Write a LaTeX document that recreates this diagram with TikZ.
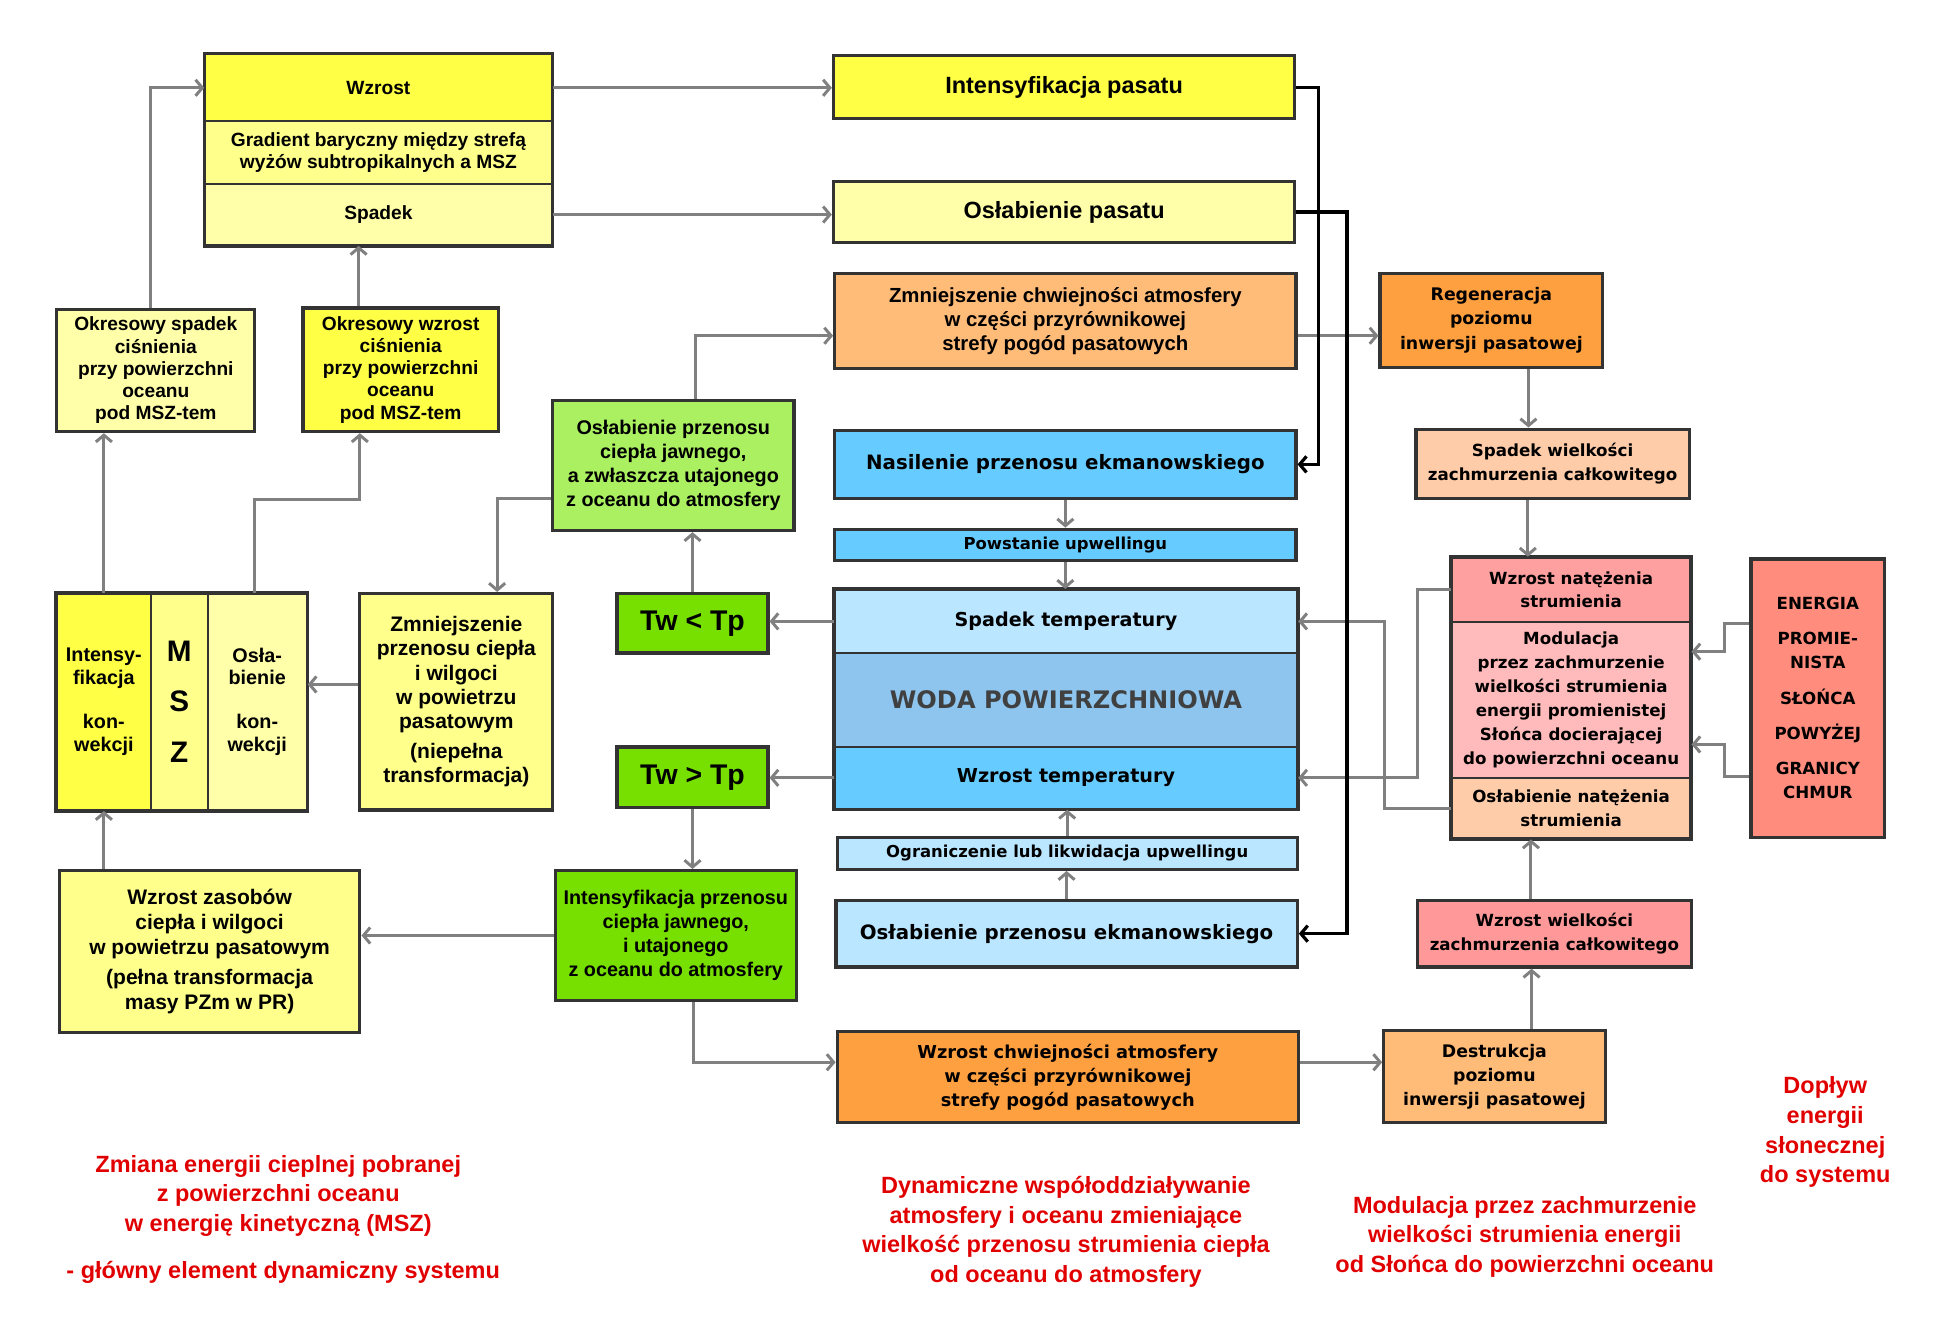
\documentclass[tikz,border=0pt]{standalone}
\usepackage{fontspec}
\setmainfont{Liberation Sans}
\newfontfamily\arialf{Liberation Sans}
\newfontfamily\widef{DejaVu Sans}
\usetikzlibrary{arrows.meta}
\definecolor{yelA}{RGB}{255,255,70}
\definecolor{yelB}{RGB}{255,255,140}
\definecolor{yelC}{RGB}{255,255,170}
\definecolor{oraL}{RGB}{255,187,120}
\definecolor{oraD}{RGB}{255,160,64}
\definecolor{grnL}{RGB}{170,240,96}
\definecolor{grnD}{RGB}{120,224,0}
\definecolor{bluD}{RGB}{102,204,255}
\definecolor{bluL}{RGB}{187,230,255}
\definecolor{bluM}{RGB}{142,197,238}
\definecolor{pnkA}{RGB}{255,160,160}
\definecolor{pnkB}{RGB}{255,187,187}
\definecolor{pnkC}{RGB}{255,153,153}
\definecolor{peach}{RGB}{255,204,170}
\definecolor{salm}{RGB}{255,140,124}
\definecolor{lgray}{RGB}{128,128,128}
\definecolor{redtx}{RGB}{225,0,0}
\begin{document}
\begin{tikzpicture}[x=1pt,y=-1pt,
  box/.style={draw=black!80,line width=2.6pt,fill=#1,inner sep=1pt,align=center,text=black},
  part/.style={draw=black!80,line width=1.6pt,fill=#1,inner sep=1pt,align=center,text=black},
  frame/.style={draw=black!80,line width=2.8pt},
  ari/.style 2 args={font=\arialf\bfseries\fontsize{#1}{#2}\selectfont},
  wid/.style 2 args={font=\widef\bfseries\fontsize{#1}{#2}\selectfont},
  conn/.style={draw=lgray,line width=2.4pt,-{Straight Barb[length=5.5pt,width=13pt]}},
  bconn/.style={draw=black,line width=2.6pt,-{Straight Barb[length=5.5pt,width=13pt]}},
  note/.style={text=redtx,align=center,font=\arialf\bfseries\fontsize{19}{24}\selectfont}]
\useasboundingbox (-2,-2) rectangle (1566,1067);
% gradient box
\node[part=yelA,ari={15.5}{18},minimum width=280pt,minimum height=54pt] (wzr) at (304,69) {Wzrost};
\node[part=yelB,ari={15.5}{18},minimum width=280pt,minimum height=51pt] (grad) at (304,121.5) {Gradient baryczny między strefą\\wyżów subtropikalnych a MSZ};
\node[part=yelC,ari={15.5}{18},minimum width=280pt,minimum height=49pt] (spd) at (304,171.5) {Spadek};
\draw[frame] (wzr.north west) rectangle (spd.south east);
% pasat
\node[box=yelA,ari={19}{22},minimum width=373pt,minimum height=51pt] (intp) at (858.5,68.5) {Intensyfikacja pasatu};
\node[box=yelC,ari={19}{22},minimum width=373pt,minimum height=49pt] (oslp) at (858.5,169.5) {Osłabienie pasatu};
\node[box=oraL,ari={16.5}{19.5},minimum width=373pt,minimum height=77pt] (zmch) at (859.5,257.5) {Zmniejszenie chwiejności atmosfery\\w części przyrównikowej\\strefy pogód pasatowych};
\node[box=oraD,wid={14}{19.5},minimum width=180pt,minimum height=76pt] (regen) at (1204,257) {Regeneracja\\poziomu\\inwersji pasatowej};
\node[box=yelC,ari={15.5}{18},minimum width=160pt,minimum height=99pt] (oksp) at (124,297.5) {Okresowy spadek\\ciśnienia\\przy powierzchni\\oceanu\\pod MSZ-tem};
\node[box=yelA,ari={15.5}{18},minimum width=158pt,minimum height=100pt] (okwz) at (322,297) {Okresowy wzrost\\ciśnienia\\przy powierzchni\\oceanu\\pod MSZ-tem};
\node[box=grnL,ari={16}{19.5},minimum width=195pt,minimum height=105pt] (oslc) at (542.5,374.5) {Osłabienie przenosu\\ciepła jawnego,\\a zwłaszcza utajonego\\z oceanu do atmosfery};
% ocean
\node[box=bluD,wid={16}{20},minimum width=373pt,minimum height=55pt] (nas) at (859.5,373.5) {Nasilenie przenosu ekmanowskiego};
\node[box=bluD,wid={13.3}{15},minimum width=373pt,minimum height=25pt] (pow) at (859.5,438.5) {Powstanie upwellingu};
\node[part=bluL,wid={15.5}{19},minimum width=374pt,minimum height=51pt] (spt) at (860,500.5) {Spadek temperatury};
\node[part=bluM,text=black!75,font=\widef\bfseries\fontsize{19.5}{22}\selectfont,minimum width=374pt,minimum height=76pt] (woda) at (860,564) {WODA POWIERZCHNIOWA};
\node[part=bluD,wid={15.5}{19},minimum width=374pt,minimum height=50pt] (wzt) at (860,627) {Wzrost temperatury};
\draw[frame] (spt.north west) rectangle (wzt.south east);
\node[box=bluL,wid={13.3}{15},minimum width=372pt,minimum height=26pt] (ogr) at (861,688) {Ograniczenie lub likwidacja upwellingu};
\node[box=bluL,wid={16}{20},minimum width=373pt,minimum height=54pt] (oslek) at (860.5,753) {Osłabienie przenosu ekmanowskiego};
\node[box=grnD,ari={23}{24},minimum width=122pt,minimum height=48pt] (twlt) at (558,502) {Tw < Tp};
\node[box=grnD,ari={23}{24},minimum width=122pt,minimum height=49pt] (twgt) at (558,626.5) {Tw > Tp};
% MSZ
\node[part=yelA,ari={16}{18.5},minimum width=76pt,minimum height=175pt] (intk) at (82,565.5) {Intensy-\\fikacja\\[17pt]kon-\\wekcji};
\node[part=yelB,ari={24}{41},minimum width=46pt,minimum height=175pt] (msz) at (143,565.5) {M\\S\\Z};
\node[part=yelC,ari={16}{18.5},minimum width=80pt,minimum height=175pt] (oslk) at (206,565.5) {Osła-\\bienie\\[17pt]kon-\\wekcji};
\draw[frame] (intk.north west) rectangle (oslk.south east);
\node[box=yelB,ari={17}{19.5},minimum width=156pt,minimum height=175pt] (zmpr) at (367,565.5) {Zmniejszenie\\przenosu ciepła\\i wilgoci\\w powietrzu\\pasatowym\\[5pt](niepełna\\transformacja)};
\node[box=yelB,ari={17}{20},minimum width=243pt,minimum height=131pt] (wzas) at (167.5,767.5) {Wzrost zasobów\\ciepła i wilgoci\\w powietrzu pasatowym\\[5pt](pełna transformacja\\masy PZm w PR)};
\node[box=grnD,ari={16}{19.5},minimum width=195pt,minimum height=105pt] (intpr) at (544.5,754.5) {Intensyfikacja przenosu\\ciepła jawnego,\\i utajonego\\z oceanu do atmosfery};
\node[box=oraD,wid={14.4}{19.5},minimum width=373pt,minimum height=74pt] (wzchw) at (861.5,869) {Wzrost chwiejności atmosfery\\w części przyrównikowej\\strefy pogód pasatowych};
\node[box=oraL,wid={14}{19.5},minimum width=179pt,minimum height=75pt] (destr) at (1206.5,868.5) {Destrukcja\\poziomu\\inwersji pasatowej};
% cloud
\node[box=peach,wid={13.5}{19},minimum width=221pt,minimum height=56pt] (spzch) at (1253.5,373) {Spadek wielkości\\zachmurzenia całkowitego};
\node[part=pnkA,wid={13.5}{19},minimum width=193pt,minimum height=52pt] (wznat) at (1268.5,475) {Wzrost natężenia\\strumienia};
\node[part=pnkB,wid={13.5}{19.4},minimum width=193pt,minimum height=126pt] (mod) at (1268.5,564) {Modulacja\\przez zachmurzenie\\wielkości strumienia\\energii promienistej\\Słońca docierającej\\do powierzchni oceanu};
\node[part=peach,wid={13.5}{19},minimum width=193pt,minimum height=49pt] (oslnat) at (1268.5,651.5) {Osłabienie natężenia\\strumienia};
\draw[frame] (wznat.north west) rectangle (oslnat.south east);
\node[box=salm,wid={13.5}{19.5},minimum width=108pt,minimum height=225pt] (energ) at (1468,562.5) {ENERGIA\\[9pt]PROMIE-\\NISTA\\[9pt]SŁOŃCA\\[9pt]POWYŻEJ\\[9pt]GRANICY\\CHMUR};
\node[box=pnkC,wid={13.5}{19},minimum width=222pt,minimum height=54pt] (wzch) at (1255,753) {Wzrost wielkości\\zachmurzenia całkowitego};
% notes
\node[note] (n1) at (223,965) {Zmiana energii cieplnej pobranej\\z powierzchni oceanu\\w energię kinetyczną (MSZ)};
\node[note] (n1b) at (227,1027) {- główny element dynamiczny systemu};
\node[note] (n2) at (860,994) {Dynamiczne współoddziaływanie\\atmosfery i oceanu zmieniające\\wielkość przenosu strumienia ciepła\\od oceanu do atmosfery};
\node[note] (n3) at (1231,998) {Modulacja przez zachmurzenie\\wielkości strumienia energii\\od Słońca do powierzchni oceanu};
\node[note] (n4) at (1474,913.5) {Dopływ\\energii\\słonecznej\\do systemu};
% connectors
\draw[conn] ([xshift=-4pt]oksp.north) |- (wzr.west);
\draw[conn] ([xshift=-34pt]okwz.north) -- ([xshift=-34pt]okwz.north |- spd.south);
\draw[conn] (wzr.east) -- (wzr.east -| intp.west);
\draw[conn] (spd.east) -- (spd.east -| oslp.west);
\draw[conn] (intk.north) -- (intk.north |- oksp.south);
\draw[conn] ([xshift=-2pt]oslk.north) -- ++(0,-75) -| ([xshift=-33pt]okwz.south);
\draw[conn] ([xshift=18pt]oslc.north) |- ([yshift=-12pt]zmch.west);
\draw[conn] ([yshift=-12pt]zmch.east) -- ([yshift=-12pt]zmch.east -| regen.west);
\draw[conn] ([yshift=-27pt]oslc.west) -| ([xshift=33pt]zmpr.north);
\draw[conn] (twlt.north) -- (twlt.north |- oslc.south);
\draw[conn] (spt.west) -- (spt.west -| twlt.east);
\draw[conn] ([yshift=14pt]zmpr.west) -- ([yshift=14pt]zmpr.west -| oslk.east);
\draw[conn] (wzt.west) -- (wzt.west -| twgt.east);
\draw[conn] (twgt.south) -- (twgt.south |- intpr.north);
\draw[conn] (intpr.west) -- (intpr.west -| wzas.east);
\draw[conn] (wzas.north -| intk.south) -- (intk.south);
\draw[conn] ([xshift=14pt]intpr.south) |- ([yshift=12pt]wzchw.west);
\draw[conn] ([yshift=12pt]wzchw.east) -- ([yshift=12pt]wzchw.east -| destr.west);
\draw[conn] ([xshift=30pt]destr.north) -- ([xshift=30pt]destr.north |- wzch.south);
\draw[conn] ([xshift=-19pt]wzch.north) -- ([xshift=-19pt]wzch.north |- oslnat.south);
\draw[conn] ([xshift=30pt]regen.south) -- ([xshift=30pt]regen.south |- spzch.north);
\draw[conn] ([xshift=-20pt]spzch.south) -- ([xshift=-20pt]spzch.south |- wznat.north);
\draw[conn] (energ.west |- wznat.south) -- ++(-20,0) |- ([yshift=39pt]mod.east);
\draw[conn] (energ.west |- oslnat.north) -- ++(-20,0) |- ([yshift=-36pt]mod.east);
\draw[conn] (wznat.west) -- ++(-27,0) |- (wzt.east);
\draw[conn] (oslnat.west) -- ++(-54,0) |- (spt.east);
\draw[conn] (nas.south) -- (nas.south |- pow.north);
\draw[conn] (pow.south) -- (pow.south |- spt.north);
\draw[conn] (ogr.north) -- (ogr.north |- wzt.south);
\draw[conn] (oslek.north) -- (oslek.north |- ogr.south);
\draw[bconn] (intp.east) -- ++(18,0) |- (nas.east);
\draw[bconn] (oslp.east) -- ++(41,0) |- (oslek.east);
\end{tikzpicture}
\end{document}
